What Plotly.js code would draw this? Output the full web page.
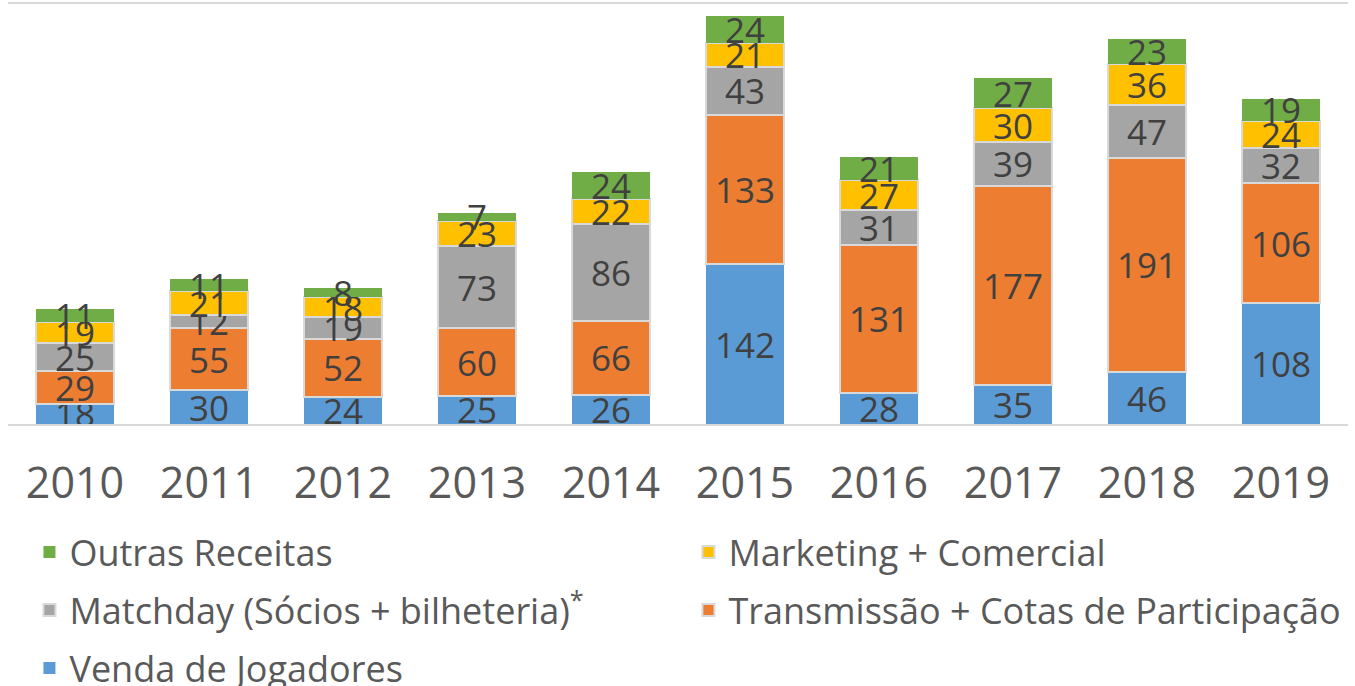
<!DOCTYPE html>
<html>
<head>
<meta charset="utf-8">
<script src="https://cdn.plot.ly/plotly-3.0.1.min.js"></script>
<style>html,body{margin:0;padding:0;background:#fff;}#chart{width:1355px;height:686px;}</style>
</head>
<body>
<div id="chart"></div>
<script>
const years = ['2010','2011','2012','2013','2014','2015','2016','2017','2018','2019'];
const vendaJogadores = [18, 30, 24, 25, 26, 142, 28, 35, 46, 108];
const transmissao   = [29, 55, 52, 60, 66, 133, 131, 177, 191, 106];
const matchday      = [25, 12, 19, 73, 86, 43, 31, 39, 47, 32];
const marketing     = [19, 21, 18, 23, 22, 21, 27, 30, 36, 24];
const outras        = [11, 11, 8, 7, 24, 24, 21, 27, 23, 19];

const seriesNames = {
  venda: 'Venda de Jogadores',
  trans: 'Transmissão + Cotas de Participação',
  match: 'Matchday (Sócios + bilheteria)<sup>*</sup>',
  mkt: 'Marketing + Comercial',
  outras: 'Outras Receitas'
};

const FONT = '"Open Sans", Lato, sans-serif';
const labelFont = {family: FONT, size: 35, color: '#404040'};

function bar(y, name, color, border, legend) {
  return {
    type: 'bar', x: years, y: y, name: name,
    marker: {color: color, line: {color: '#D9D9D9', width: border ? 2 : 0}},
    text: y.map(String), textposition: 'inside', insidetextanchor: 'middle',
    textangle: 0, constraintext: 'none', insidetextfont: labelFont,
    legend: legend, hoverinfo: 'skip'
  };
}

const data = [
  bar(vendaJogadores, seriesNames.venda, '#5B9BD5', false, 'legend3'),
  bar(transmissao, seriesNames.trans, '#ED7D31', true, 'legend2'),
  bar(matchday, seriesNames.match, '#A5A5A5', true, 'legend2'),
  bar(marketing, seriesNames.mkt, '#FFC000', true, 'legend'),
  bar(outras, seriesNames.outras, '#70AD47', false, 'legend')
];

const legBase = {
  orientation: 'h', xanchor: 'left', yanchor: 'middle', x: 0.016,
  font: {family: FONT, size: 36, color: '#595959'},
  entrywidth: 614, entrywidthmode: 'pixels', traceorder: 'reversed',
  bgcolor: 'rgba(0,0,0,0)'
};

const layout = {
  width: 1355, height: 686,
  margin: {l: 8, r: 7, t: 4, b: 262, autoexpand: false},
  paper_bgcolor: '#fff', plot_bgcolor: '#fff',
  barmode: 'stack', bargap: 0.42,
  font: {family: FONT, color: '#595959'},
  xaxis: {
    type: 'category', showline: true, mirror: true, linecolor: '#D9D9D9', linewidth: 2,
    ticks: '', tickfont: {family: FONT, size: 43, color: '#595959'}, ticklabelstandoff: 20,
    showgrid: false, zeroline: false
  },
  yaxis: {range: [0, 373.7], visible: false, showgrid: false, zeroline: false},
  showlegend: true,
  legend: Object.assign({}, legBase, {y: (686 - 552 - 262) / 420}),
  legend2: Object.assign({}, legBase, {y: (686 - 610 - 262) / 420}),
  legend3: Object.assign({}, legBase, {y: (686 - 668 - 262) / 420})
};

Plotly.newPlot('chart', data, layout, {displayModeBar: false, staticPlot: true});
</script>
</body>
</html>
